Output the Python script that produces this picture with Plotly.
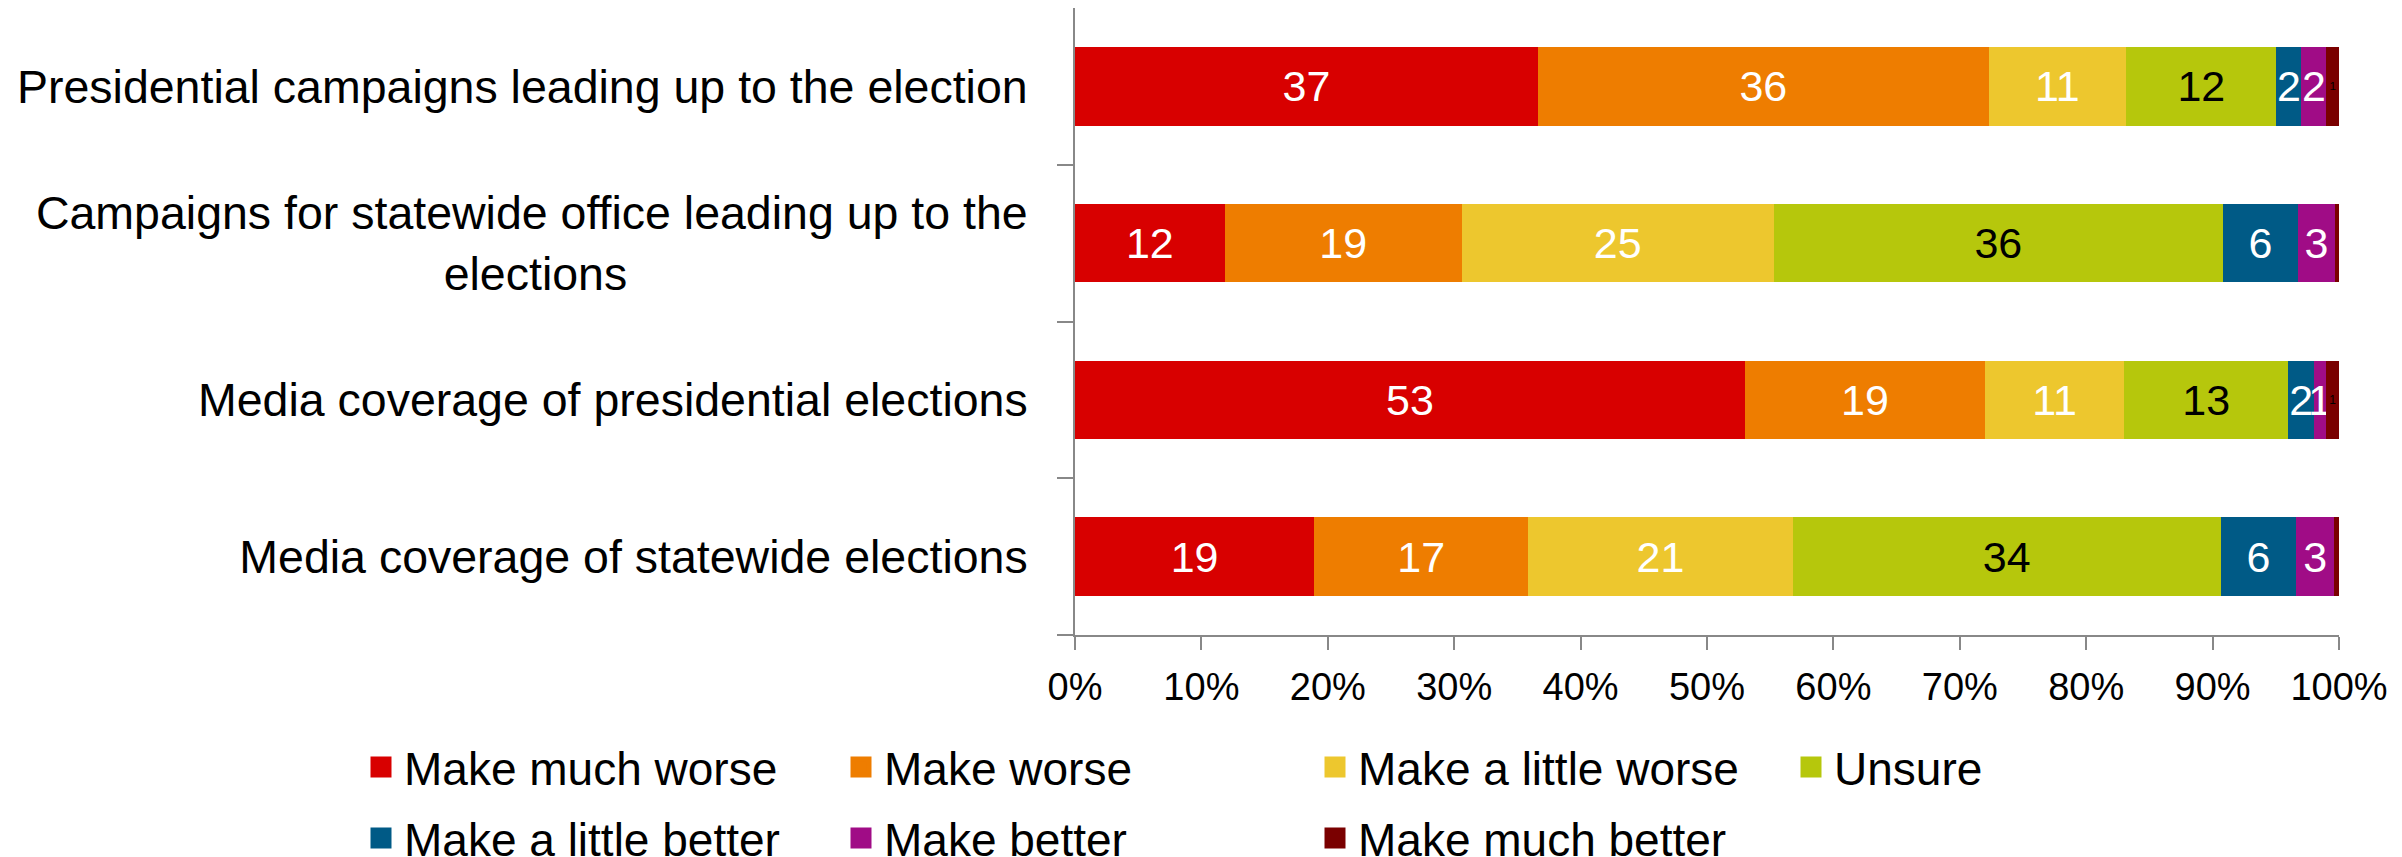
import plotly.graph_objects as go

categories = [
    "Presidential campaigns leading up to the election",
    "Campaigns for statewide office leading up to the elections",
    "Media coverage of presidential elections",
    "Media coverage of statewide elections",
]
series_names = [
    "Make much worse", "Make worse", "Make a little worse", "Unsure",
    "Make a little better", "Make better", "Make much better",
]
make_much_worse = [37, 12, 53, 19]
make_worse = [36, 19, 19, 17]
make_little_worse = [11, 25, 11, 21]
unsure = [12, 36, 13, 34]
make_little_better = [2, 6, 2, 6]
make_better = [2, 3, 1, 3]
make_much_better = [1, 0.3, 1, 0.4]
series_values = [make_much_worse, make_worse, make_little_worse, unsure,
                 make_little_better, make_better, make_much_better]
x_ticks = list(range(0, 101, 10))
x_tick_labels = [f"{v}%" for v in x_ticks]

colors = ["#D80000", "#EE7D00", "#EDC72E", "#B6C70C", "#005A86", "#A00C86", "#7A0000"]
text_colors = ["white", "white", "white", "black", "white", "white", "black"]

# legend layout (container px): swatch-left x and row centre y
W, H = 2402, 857
legend_x = [368, 848, 1322, 1798, 368, 848, 1322]
legend_y = [767, 767, 767, 767, 838, 838, 838]

NB = "\u00a0"
ticktext = [
    categories[0],
    "Campaigns for statewide office leading up to the<br>elections" + NB * 31,
    categories[2],
    categories[3],
]

fig = go.Figure()
legend_layouts = {}
for i, (name, vals) in enumerate(zip(series_names, series_values)):
    labels = [str(round(v)) if v >= 0.5 else "" for v in vals]
    fig.add_trace(go.Bar(
        y=categories, x=vals, name=name, orientation="h",
        marker=dict(color=colors[i], line=dict(width=0)),
        text=labels, textposition="inside", insidetextanchor="middle",
        textfont=dict(color=text_colors[i], size=43, family="Liberation Sans"),
        constraintext="both" if i == 6 else "none",
        showlegend=False, hoverinfo="skip",
    ))
    lname = "legend" if i == 0 else f"legend{i + 1}"
    fig.add_trace(go.Scatter(
        x=[None], y=[None], mode="markers", name=name,
        marker=dict(symbol="square", size=16, color=colors[i],
                    line=dict(color=colors[i], width=5)),
        legend=lname, showlegend=True,
    ))
    legend_layouts[lname] = dict(
        orientation="h", xref="container", yref="container",
        x=(legend_x[i] - 10) / W, y=1 - legend_y[i] / H,
        xanchor="left", yanchor="middle", itemwidth=36,
        font=dict(size=46, family="Liberation Sans"), itemsizing="trace",
        bgcolor="rgba(0,0,0,0)", borderwidth=0,
    )

fig.update_layout(
    barmode="stack", barnorm="percent", bargap=0.5,
    width=W, height=H,
    margin=dict(l=1075, r=63, t=8, b=222, autoexpand=False),
    paper_bgcolor="white", plot_bgcolor="white",
    font=dict(family="Liberation Sans", size=36, color="black"),
    **legend_layouts,
)
fig.update_yaxes(
    categoryorder="array", categoryarray=categories[::-1],
    tickvals=categories, ticktext=ticktext,
    tickson="boundaries", ticks="outside", ticklen=16, tickcolor="#888888",
    tickwidth=2,
    showline=True, linecolor="#888888", linewidth=2, showgrid=False,
    ticklabelstandoff=36, tickfont=dict(size=46.5),
)
fig.update_xaxes(
    range=[0, 100], tickvals=x_ticks, ticktext=x_tick_labels,
    ticks="outside", ticklen=13, tickcolor="#888888", tickwidth=2,
    showline=True, linecolor="#888888", linewidth=2, showgrid=False,
    zeroline=False, ticklabelstandoff=4, tickfont=dict(size=38),
)
fig.write_html(
    "out.html",
    config={"displayModeBar": False},
    post_script="document.body.style.margin='0';document.body.style.overflow='hidden';",
)
